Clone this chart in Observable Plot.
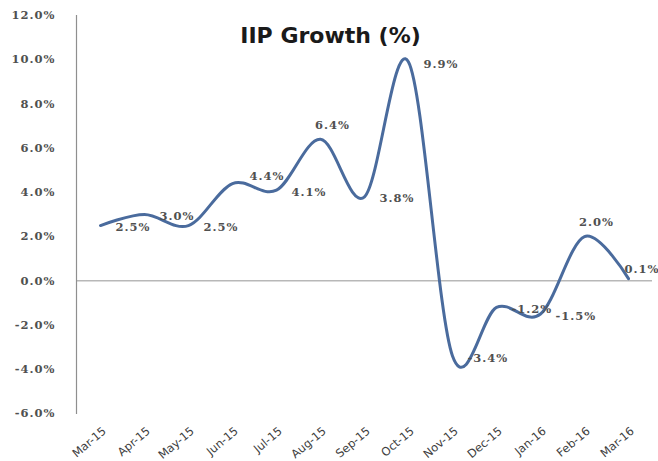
<!DOCTYPE html>
<html>
<head>
<meta charset="utf-8">
<script src="https://cdn.jsdelivr.net/npm/d3@7"></script>
<script src="https://cdn.jsdelivr.net/npm/@observablehq/plot@0.6"></script>
<style>
  html, body { margin: 0; padding: 0; background: #fff; }
  #chart svg { display: block; }
  #chart g[aria-label="y-axis tick label"] text,
  #chart g.vals text { letter-spacing: 1px; }
</style>
</head>
<body>
<div id="chart"></div>
<script>
const months = ["Mar-15","Apr-15","May-15","Jun-15","Jul-15","Aug-15","Sep-15","Oct-15","Nov-15","Dec-15","Jan-16","Feb-16","Mar-16"];
const growth = [2.5, 3.0, 2.5, 4.4, 4.1, 6.4, 3.8, 9.9, -3.4, -1.2, -1.5, 2.0, 0.1];
const yTicks = [-6, -4, -2, 0, 2, 4, 6, 8, 10, 12];
const title = "IIP Growth (%)";

const data = months.map((m, i) => ({month: m, value: growth[i], i, label: growth[i].toFixed(1) + "%"}));

// label placement groups (layout only)
const aboveIdx = new Set([5, 11]);
const upIdx = new Set([3]);
const endIdx = new Set([12]);
const rightData = data.filter(d => !aboveIdx.has(d.i) && !upIdx.has(d.i) && !endIdx.has(d.i));

const labelFont = {fontFamily: "DejaVu Serif", fontWeight: "bold", fontSize: 11.5, fill: "#505050", className: "vals"};

const chart = Plot.plot({
  width: 658,
  height: 461,
  marginLeft: 76,
  marginRight: 6,
  marginTop: 15,
  marginBottom: 48,
  style: {background: "#fff", overflow: "visible"},
  x: {type: "point", domain: months, padding: 0.5, label: null},
  y: {domain: [-6, 12], label: null},
  marks: [
    Plot.ruleY([0], {stroke: "#b8b8b8", strokeWidth: 1.5}),
    Plot.frame({anchor: "left", stroke: "#8f8f8f", strokeWidth: 1.2}),
    Plot.line(data, {x: "month", y: "value", curve: "cardinal", stroke: "#4a6b9d", strokeWidth: 3}),
    Plot.text(rightData, {x: "month", y: "value", text: "label", textAnchor: "start", dx: 15, dy: 2, ...labelFont}),
    Plot.text(data.filter(d => upIdx.has(d.i)), {x: "month", y: "value", text: "label", textAnchor: "start", dx: 17, dy: -7, ...labelFont}),
    Plot.text(data.filter(d => aboveIdx.has(d.i)), {x: "month", y: "value", text: "label", textAnchor: "middle", dx: 12, dy: -14, ...labelFont}),
    Plot.text(data.filter(d => endIdx.has(d.i)), {x: "month", y: "value", text: "label", textAnchor: "start", dx: -4, dy: -9, ...labelFont}),
    Plot.text([title], {frameAnchor: "top", text: d => d, lineAnchor: "top", dx: -34, dy: 12,
      fontFamily: "DejaVu Sans", fontWeight: "bold", fontSize: 22, fill: "#1a1a1a"}),
    Plot.axisY({ticks: yTicks, tickSize: 0, tickPadding: 21, tickFormat: d => d.toFixed(1) + "%",
      fontFamily: "DejaVu Serif", fontWeight: "bold", fontSize: 11.5, fill: "#505050"}),
    Plot.axisX({tickSize: 0, tickRotate: -40, tickPadding: 16, dx: 4,
      fontFamily: "DejaVu Sans", fontSize: 11.5, fill: "#404040"})
  ]
});
document.getElementById("chart").appendChild(chart);
</script>
</body>
</html>
